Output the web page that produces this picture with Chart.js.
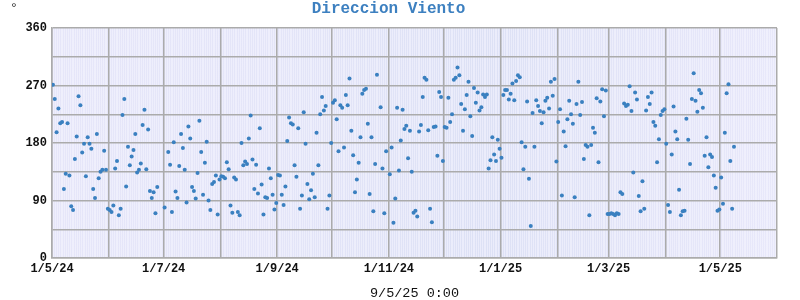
<!DOCTYPE html>
<html>
<head>
<meta charset="utf-8">
<script src="https://cdn.jsdelivr.net/npm/chart.js@4/dist/chart.umd.min.js"></script>
<style>
  html, body { margin: 0; padding: 0; background: #ffffff; }
  #wrap { width: 800px; height: 300px; }
</style>
</head>
<body>
<div id="wrap"><canvas id="c" width="800" height="300"></canvas></div>
<script>
// ---- data ----
const chartTitle = 'Direccion Viento';
const unitLabel = '°';
const axisTitle = '9/5/25 0:00';
const startYear = 2024, startMonth = 4, startDay = 1;   // 1 May 2024 (day 0)
const totalDays = 396;                                  // axis runs to 1 Jun 2025
const xTickLabels = ['1/5/24', '1/7/24', '1/9/24', '1/11/24', '1/1/25', '1/3/25', '1/5/25'];
const yTickLabels = [0, 90, 180, 270, 360];
// daily wind direction (degrees), index = day since 1 May 2024; null = no reading
const dirs = [
  271,249,197,234,211,213,108,132,211,129, 81, 75,155,190,253,239,165,179,128,189,
  179,171,108, 94,194,125,135,138,168,138, 77, 75, 72, 82,140,152, 67, 77,224,249,
  112,174,145,159,169,194,134,138,148,208,232,139,201,105, 94,103, 70,111,null,null,
  null, 79,null,166,146, 72,181,104, 94,144,194,172,138, 87,206,187,111,105, 93,133,
  215,166, 99,149,182, 90, 75,116,119,129, 68,123,128,127,125,150,139, 82, 71,126,
  123, 72, 67,180,145,151,147,187,223,154,108,146,101,203,115, 68, 95, 94,140,125,
   99, 76, 86,130,129, 99, 83,112,183,220,211,209,145,127,203, 77, 98,228,179,116,
   92,106,132, 95,196,145,225,252,231,238, 77, 98,180,243,247,217,167,239,235,173,
  255,239,281,199,161,103,123,149,189,257,263,265,210,100,189, 73,147,287,null,236,
  140, 70,167,null,131,173, 55, 93,235,137,184,232,202,207,156,199,135, 71, 74, 65,
  198,208,252,282,279,200, 77, 56,205,206,160,260,252,152,205,204,251,213,225,279,
  282,298,286,241,199,233,255,276,222,191,266,243,259,231,236,256,252,256,140,153,
  189,162,152,185,171,157,255,263,263,248,257,273,247,277,286,283,181,139,174,245,
  124, 50,227,174,247,238,230,211,228,246,251,234,276,254,280,151,213,233, 98,198,
  175,217,246,225,210, 95,241,276,224,244,155,177,174, 67,177,204,196,250,150,245,
  264,222,262, 69, 69, 70, 69, 67, 70, 69,103,100,242,238,240,269,230,134,259,248,
   97, 73,120, 77,231,252,241,259,213,207,150,186,224,230,233,179, 83, 72,162,237,
  198,186,107, 67, 73, 74,218,185,147,249,289,246,229,263,258,235,160,189,142,162,
  158,129,110, 74, 76,126, 85,196,258,272,152, 77,174
];

// ---- helpers ----
function dayDate(d) { return new Date(startYear, startMonth, startDay + d); }
function fmt(dt) { return dt.getDate() + '/' + (dt.getMonth() + 1) + '/' + String(dt.getFullYear()).slice(2); }
function isMonthStart(d) { return dayDate(d).getDate() === 1; }

const points = [];
dirs.forEach((v, i) => { if (v !== null) points.push({ x: i + 0.5, y: v }); });

const MONO = '"Liberation Mono", "Courier New", "DejaVu Sans Mono", monospace';

const bgPlugin = {
  id: 'plotBg',
  beforeDraw(chart) {
    const { ctx, chartArea: a } = chart;
    const g = ctx.createLinearGradient(a.left, 0, a.right, 0);
    g.addColorStop(0, '#e6e6f9');
    g.addColorStop(0.3, '#e4e5f8');
    g.addColorStop(0.6, '#dde1f5');
    g.addColorStop(0.85, '#e4e5f8');
    g.addColorStop(1, '#e8e8fa');
    ctx.save();
    ctx.fillStyle = g;
    ctx.fillRect(a.left, a.top, a.right - a.left, a.bottom - a.top);
    ctx.restore();
  },
  afterDraw(chart) {
    const { ctx } = chart;
    ctx.save();
    ctx.fillStyle = '#222222';
    ctx.font = '13px ' + MONO;
    ctx.textAlign = 'center';
    ctx.textBaseline = 'alphabetic';
    ctx.fillText(unitLabel, 14, 12);
    ctx.restore();
  }
};

new Chart(document.getElementById('c'), {
  type: 'scatter',
  data: {
    datasets: [{
      data: points,
      backgroundColor: '#3a80c0',
      borderWidth: 0,
      pointRadius: 2,
      pointHoverRadius: 2
    }]
  },
  plugins: [bgPlugin],
  options: {
    responsive: false,
    animation: false,
    events: [],
    layout: { padding: { left: 0, right: 23, top: 0, bottom: 0 } },
    plugins: {
      legend: { display: false },
      tooltip: { enabled: false },
      title: {
        display: true,
        text: chartTitle,
        color: '#3d80c0',
        font: { family: MONO, size: 16, weight: 'bold', lineHeight: 1 },
        padding: { top: 1, bottom: 11 }
      }
    },
    scales: {
      x: {
        type: 'linear',
        min: 0,
        max: totalDays,
        afterBuildTicks(scale) {
          const t = [];
          for (let d = 0; d <= totalDays; d++) t.push({ value: d });
          scale.ticks = t;
        },
        afterFit(scale) { scale.height = 42; },
        ticks: {
          autoSkip: false,
          maxRotation: 0,
          minRotation: 0,
          padding: 4,
          color: '#111111',
          font: { family: MONO, size: 12, weight: 'bold' },
          callback(v) {
            if (!isMonthStart(v)) return '';
            const s = fmt(dayDate(v));
            return xTickLabels.includes(s) ? s : '';
          }
        },
        grid: {
          drawTicks: false,
          color(ctx) { return isMonthStart(ctx.tick.value) ? '#ababab' : 'rgba(246,246,255,0.55)'; },
          lineWidth(ctx) { return isMonthStart(ctx.tick.value) ? 1.5 : 1; }
        },
        border: { display: true, color: '#ababab', width: 1.5 },
        title: {
          display: true,
          text: axisTitle,
          color: '#111111',
          font: { family: MONO, size: 13.5, lineHeight: 1 },
          padding: { top: 0, bottom: 0 }
        }
      },
      y: {
        min: 0,
        max: 360,
        afterFit(scale) { scale.width = 52; },
        ticks: {
          stepSize: 45,
          padding: 5,
          color: '#111111',
          font: { family: MONO, size: 12, weight: 'bold' },
          callback(v) { return yTickLabels.includes(v) ? String(v) : ''; }
        },
        grid: { drawTicks: false, color: '#ababab', lineWidth: 1.5 },
        border: { display: true, color: '#ababab', width: 1.5 }
      }
    }
  }
});
</script>
</body>
</html>
